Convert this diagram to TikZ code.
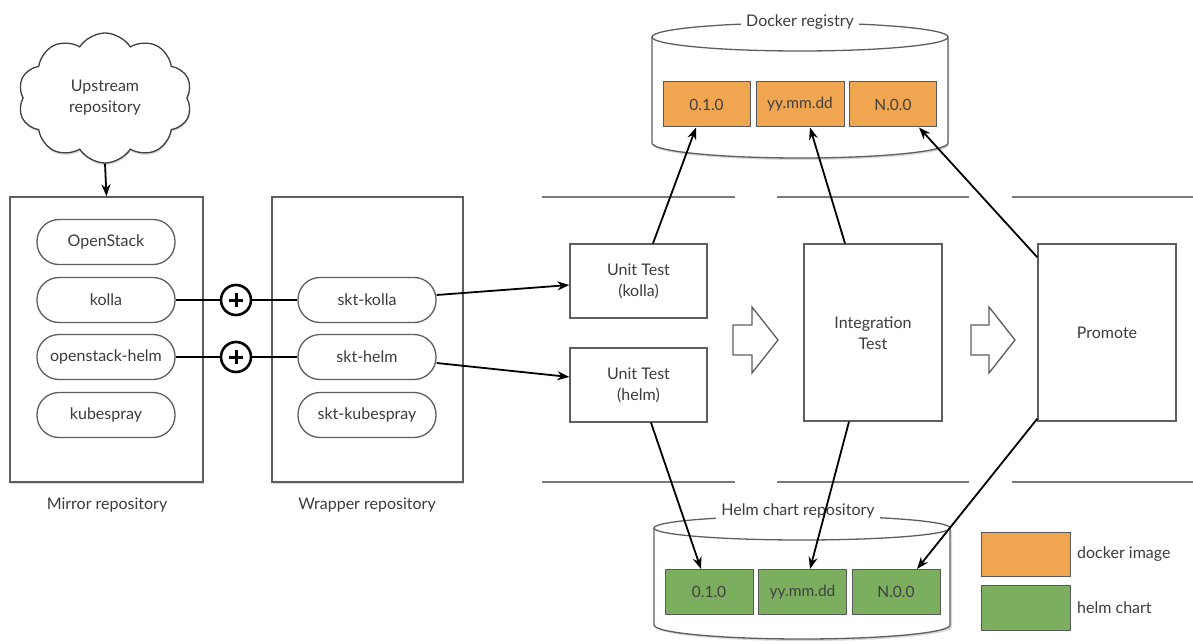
\documentclass[tikz,border=0pt]{standalone}
\usepackage{fontspec}
\setmainfont{Lato}
\usetikzlibrary{shapes.symbols,arrows.meta,shadows}
\definecolor{txt}{HTML}{3C3C3C}
\definecolor{ln}{HTML}{5E5E5E}
\definecolor{sep}{HTML}{7A7A7A}
\definecolor{dock}{HTML}{F0A650}
\definecolor{helmc}{HTML}{7BAE5E}
\begin{document}
\begin{tikzpicture}[x=1pt,y=-1pt,
  every node/.style={text=txt, font=\fontsize{16}{21}\selectfont, inner sep=0pt, align=center},
  shad/.style={drop shadow={shadow xshift=0.5pt, shadow yshift=-2pt, opacity=0.25, fill=black!60}},
  frame/.style={draw=ln, line width=1.4pt, fill=white, shad},
  pill/.style={draw=ln, line width=1.3pt, fill=white, minimum width=138pt, minimum height=45pt, rounded corners=22pt},
  stage/.style={draw=ln, line width=1.3pt, fill=white, minimum width=137pt},
  tag/.style={draw=black!65, line width=1pt, minimum width=87pt, minimum height=45pt, font=\fontsize{15.5}{19}\selectfont, text=black!75},
  plus/.style={circle, draw=black, line width=2.6pt, fill=white, minimum size=30pt},
  arr/.style={draw=black, line width=1.8pt, -{Stealth[length=12pt,width=9pt]}},
  joint/.style={draw=black, line width=2.2pt},
  sepline/.style={draw=sep, line width=1.3pt},
  hollow/.style={draw=ln, line width=1.3pt, fill=white, line join=miter}
]
\useasboundingbox (0,0) rectangle (1193,644);

% upstream cloud
\node[cloud, cloud puffs=10, cloud puff arc=115, aspect=1.35, draw=black!75, line width=1.3pt, fill=white, shad,
      minimum width=174pt, minimum height=130pt] (up) at (105,98) {Upstream\\repository};

% repositories
\node[frame, minimum width=193pt, minimum height=285pt] (mirror) at (106.5,339.5) {};
\node[frame, minimum width=191pt, minimum height=285pt] (wrap) at (367.5,339.5) {};
\node (mirrorlab) at (107,505) {Mirror repository};
\node (wraplab) at (367,505) {Wrapper repository};

\node[pill] (os) at (106,242) {OpenStack};
\node[pill] (kolla) at (106,300) {kolla};
\node[pill] (osh) at (106,357) {openstack-helm};
\node[pill] (kube) at (106,415) {kubespray};

\node[pill] (sktk) at (367,300) {skt-kolla};
\node[pill] (skth) at (367,357) {skt-helm};
\node[pill] (sktkb) at (367,415) {skt-kubespray};

\node[plus] (p1) at (236,300) {};
\node[plus] (p2) at (236,357) {};
\foreach \p in {p1,p2}{
  \draw[line width=3pt] ([xshift=-7pt]\p.center) -- ([xshift=7pt]\p.center);
  \draw[line width=3pt] ([yshift=-7pt]\p.center) -- ([yshift=7pt]\p.center);
}
\draw[joint] (kolla.east) -- (p1.west);
\draw[joint] (p1.east) -- (sktk.west);
\draw[joint] (osh.east) -- (p2.west);
\draw[joint] (p2.east) -- (skth.west);

\draw[arr] (up.south) -- (mirror.north);

% separator lines
\coordinate (t1a) at (542,197); \coordinate (t1b) at (735,197);
\coordinate (t2a) at (777,197); \coordinate (t2b) at (969,197);
\coordinate (t3a) at (1012,197); \coordinate (t3b) at (1193,197);
\coordinate (b1a) at (542,482); \coordinate (b1b) at (735,482);
\coordinate (b2a) at (777,482); \coordinate (b2b) at (969,482);
\coordinate (b3a) at (1012,482); \coordinate (b3b) at (1193,482);
\draw[sepline] (t1a) -- (t1b) (t2a) -- (t2b) (t3a) -- (t3b);
\draw[sepline] (b1a) -- (b1b) (b2a) -- (b2b) (b3a) -- (b3b);

% stages
\node[stage, minimum height=74pt] (unitk) at (638.5,281) {Unit Test\\(kolla)};
\node[stage, minimum height=74pt] (unith) at (638.5,385) {Unit Test\\(helm)};
\node[stage, minimum width=138pt, minimum height=177pt] (integ) at (873,332.5) {};
\node at (873,333) {Integration\\Test};
\node[stage, minimum width=138pt, minimum height=177pt] (prom) at (1107,332.5) {Promote};

% hollow arrows
\draw[hollow] (733,325) -- (752,325) -- (752,307) -- (778,340) -- (752,373) -- (752,355) -- (733,355) -- cycle;
\draw[hollow] (971,325) -- (989,325) -- (989,307) -- (1015,340) -- (989,373) -- (989,355) -- (971,355) -- cycle;

% docker registry cylinder
\fill[black!60, opacity=0.25] (653,39) -- (653,145) arc[start angle=180, end angle=0, x radius=148, y radius=15] -- (949,39) -- cycle;
\draw[draw=ln, line width=1.3pt, fill=white] (652,37) -- (652,143) arc[start angle=180, end angle=0, x radius=148, y radius=15] -- (948,37);
\draw[draw=ln, line width=1.3pt, fill=white] (800,37) ellipse[x radius=148, y radius=14];
\node[fill=white, inner xsep=5pt, inner ysep=2pt] (dreg) at (800,22) {Docker registry};
\node[tag, fill=dock] (d1) at (706.5,104.5) {0.1.0};
\node[tag, fill=dock, minimum width=88pt] (d2) at (800,104.5) {yy.mm.dd};
\node[tag, fill=dock] (d3) at (893,104.5) {N.0.0};

% helm chart repository cylinder
\fill[black!60, opacity=0.25] (656,530) -- (656,627) arc[start angle=180, end angle=0, x radius=148, y radius=14] -- (952,530) -- cycle;
\draw[draw=ln, line width=1.3pt, fill=white] (654,528) -- (654,625) arc[start angle=180, end angle=0, x radius=148, y radius=14] -- (950,528);
\draw[draw=ln, line width=1.3pt, fill=white] (802,528) ellipse[x radius=148, y radius=12];
\node[fill=white, inner xsep=5pt, inner ysep=2pt] (hreg) at (798,511) {Helm chart repository};
\node[tag, fill=helmc, minimum width=88pt, minimum height=45pt] (h1) at (709,592) {0.1.0};
\node[tag, fill=helmc, minimum width=88pt, minimum height=45pt] (h2) at (802.5,592) {yy.mm.dd};
\node[tag, fill=helmc, minimum width=88pt, minimum height=45pt] (h3) at (896,592) {N.0.0};

% legend
\node[tag, fill=dock, minimum width=89pt, minimum height=44pt] (ld) at (1025.5,554) {};
\node[tag, fill=helmc, minimum width=89pt, minimum height=45pt] (lh) at (1025.5,607.5) {};
\node[anchor=west] (ldt) at (1077,554) {docker image};
\node[anchor=west] (lht) at (1077,608) {helm chart};

% connectors
\draw[arr] ([yshift=5pt]sktk.east) -- ([yshift=-4pt]unitk.west);
\draw[arr] ([yshift=-6pt]skth.east) -- ([yshift=8pt]unith.west);
\draw[arr] ([xshift=14.5pt]unitk.north) -- ([xshift=-10.5pt]d1.south);
\draw[arr] ([xshift=-28pt]integ.north) -- ([xshift=10pt]d2.south);
\draw[arr] ([yshift=-14pt]prom.north west) -- ([xshift=26pt]d3.south);
\draw[arr] ([xshift=12.5pt]unith.south) -- ([xshift=-8pt]h1.north);
\draw[arr] ([xshift=-24pt]integ.south) -- ([xshift=7.5pt]h2.north);
\draw[arr] ([yshift=3pt]prom.south west) -- ([xshift=21pt]h3.north);
\end{tikzpicture}
\end{document}
